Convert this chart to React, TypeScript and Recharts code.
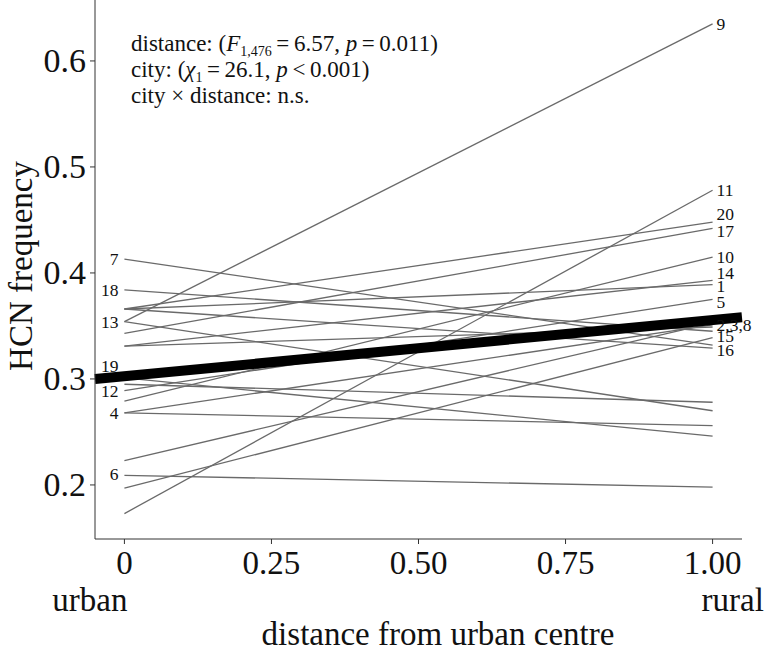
import React from 'react';
import { ComposedChart, Line, Scatter, XAxis, YAxis } from 'recharts';

// HCN frequency per city at the urban (0) and rural (1) ends
const cities = ['1','2','3','4','5','6','7','8','9','10','11','12','13','14','15','16','17','18','19','20'];
const urbanFreq = [0.366, 0.223, 0.268, 0.268, 0.289, 0.209, 0.413, 0.331, 0.354, 0.279, 0.173, 0.295, 0.354, 0.331, 0.197, 0.366, 0.343, 0.384, 0.301, 0.366];
const ruralFreq = [0.389, 0.353, 0.351, 0.256, 0.375, 0.198, 0.332, 0.349, 0.635, 0.415, 0.478, 0.278, 0.270, 0.393, 0.339, 0.329, 0.442, 0.345, 0.246, 0.448];

// overall fitted trend, read at the panel edges
const fitDistance = [-0.05, 1.05];
const fitFreq = [0.2999, 0.3582];

// city labels: left side (distance 0) and right side (distance 1)
const leftLabels = ['7', '18', '13', '19', '12', '4', '6'];
const leftLabelFreq = [0.4132, 0.384, 0.3538, 0.3123, 0.2887, 0.2679, 0.2104];
const rightLabels = ['9', '11', '20', '17', '10', '14', '1', '5', '2,3,8', '15', '16'];
const rightLabelFreq = [0.635, 0.478, 0.4557, 0.4396, 0.4154, 0.4003, 0.3877, 0.3729, 0.3505, 0.3406, 0.3274];

const xTicks = [0, 0.25, 0.5, 0.75, 1];
const xTickText = ['0', '0.25', '0.50', '0.75', '1.00'];
const xTickSub = ['urban', '', '', '', 'rural'];
const yTicks = [0.2, 0.3, 0.4, 0.5, 0.6];

const rows = [-0.05, 0, 1, 1.05].map((x) => {
  const r: any = { x };
  cities.forEach((c, i) => {
    if (x === 0) r['c' + c] = urbanFreq[i];
    if (x === 1) r['c' + c] = ruralFreq[i];
  });
  const fi = fitDistance.indexOf(x);
  if (fi >= 0) r.fit = fitFreq[fi];
  return r;
});

const labelRows = [
  ...leftLabels.map((t, i) => ({ x: 0, y: leftLabelFreq[i], t })),
  ...rightLabels.map((t, i) => ({ x: 1, y: rightLabelFreq[i], t })),
];

const FONT = '"Liberation Serif", "Times New Roman", serif';

const LabelShape = (props: any) => {
  const { cx, cy, payload } = props;
  const left = payload.x === 0;
  return (
    <text
      x={left ? cx - 6 : cx + 4}
      y={cy}
      textAnchor={left ? 'end' : 'start'}
      dominantBaseline="central"
      fontFamily={FONT}
      fontSize={17.5}
      fill="#111"
    >
      {payload.t}
    </text>
  );
};

const XTick = (props: any) => {
  const { x, y, payload } = props;
  const i = xTicks.indexOf(payload.value);
  const sub = xTickSub[i];
  return (
    <g>
      <text x={x} y={y + 17} textAnchor="middle" dominantBaseline="central" fontFamily={FONT} fontSize={33} fill="#111">
        {xTickText[i]}
      </text>
      {sub ? (
        <text
          x={i === 0 ? x + 3 : x - 11}
          y={y + 54}
          textAnchor={i === 0 ? 'end' : 'start'}
          dominantBaseline="central"
          fontFamily={FONT}
          fontSize={33}
          fill="#111"
        >
          {sub}
        </text>
      ) : null}
    </g>
  );
};

const YTick = (props: any) => {
  const { x, y, payload } = props;
  return (
    <text x={x + 2} y={y} textAnchor="end" dominantBaseline="central" fontFamily={FONT} fontSize={34} fill="#111">
      {payload.value.toFixed(1)}
    </text>
  );
};

const subStyle: React.CSSProperties = { fontSize: 14, verticalAlign: '-5px', lineHeight: 0 };

export default function App() {
  return (
    <div style={{ position: 'absolute', left: 0, top: 0, width: 773, height: 651, background: '#fff' }}>
      <ComposedChart
        width={773}
        height={651}
        data={rows}
        margin={{ top: 0, right: 31, bottom: 0, left: 0 }}
        style={{ overflow: 'visible' }}
      >
        <XAxis
          dataKey="x"
          type="number"
          domain={[-0.05, 1.05]}
          ticks={xTicks}
          height={112}
          stroke="#333"
          tickSize={5}
          tick={<XTick />}
        />
        <YAxis
          type="number"
          domain={[0.149, 0.6575]}
          ticks={yTicks}
          width={95}
          stroke="#333"
          tickSize={5}
          tickMargin={6}
          tick={<YTick />}
        />
        {cities.map((c) => (
          <Line
            key={c}
            dataKey={'c' + c}
            stroke="#6a6a6a"
            strokeWidth={1.3}
            dot={false}
            activeDot={false}
            isAnimationActive={false}
            connectNulls={false}
          />
        ))}
        <Line
          dataKey="fit"
          stroke="#000"
          strokeWidth={10}
          strokeLinecap="butt"
          dot={false}
          activeDot={false}
          connectNulls
          isAnimationActive={false}
        />
        <Scatter data={labelRows} dataKey="y" shape={<LabelShape />} isAnimationActive={false} />
      </ComposedChart>
      <div
        style={{
          position: 'absolute',
          left: 21,
          top: 266,
          transform: 'translate(-50%, -50%) rotate(-90deg)',
          fontFamily: FONT,
          fontSize: 33,
          lineHeight: '36px',
          color: '#111',
          whiteSpace: 'nowrap',
        }}
      >
        HCN frequency
      </div>
      <div
        style={{
          position: 'absolute',
          left: 438,
          top: 634,
          transform: 'translate(-50%, -50%)',
          fontFamily: FONT,
          fontSize: 33,
          lineHeight: '34px',
          color: '#111',
          whiteSpace: 'nowrap',
        }}
      >
        distance from urban centre
      </div>
      <div
        style={{
          position: 'absolute',
          left: 131,
          top: 31,
          fontFamily: FONT,
          fontSize: 23,
          lineHeight: '26px',
          color: '#111',
          whiteSpace: 'nowrap',
        }}
      >
        <div style={{ height: 26 }}>
          distance: (<i>F</i>
          <sub style={subStyle}>1,476</sub>
          {'\u2009=\u20096.57, '}
          <i>p</i>
          {'\u2009=\u20090.011)'}
        </div>
        <div style={{ height: 26 }}>
          city: (<i>χ</i>
          <sub style={subStyle}>1</sub>
          {'\u2009=\u200926.1, '}
          <i>p</i>
          {'\u2009<\u20090.001)'}
        </div>
        <div style={{ height: 26 }}>city × distance: n.s.</div>
      </div>
    </div>
  );
}
